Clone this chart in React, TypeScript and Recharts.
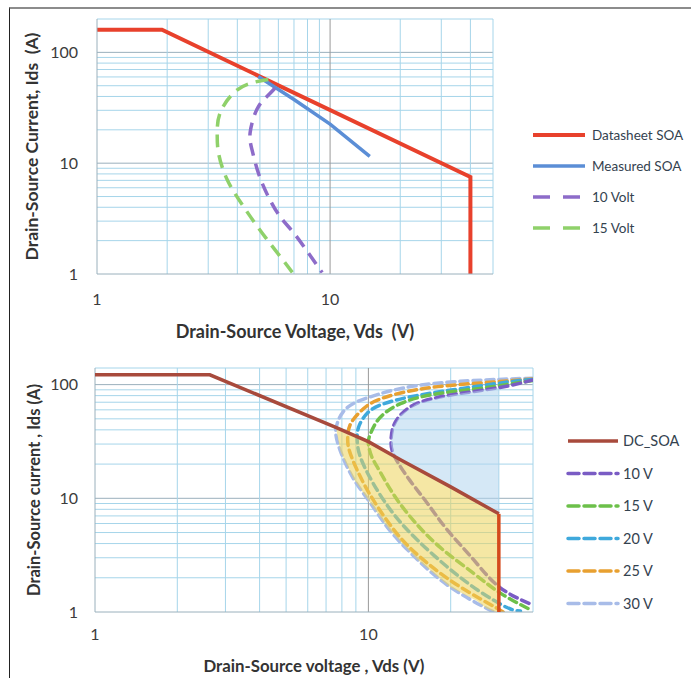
import React from 'react';
import { ComposedChart, Line, Area, XAxis, YAxis, ReferenceLine } from 'recharts';

// ---------- Top chart data ----------
const topXTicks = [1, 10];
const topYTicks = [1, 10, 100];
const topXGrid = [2, 3, 4, 5, 6, 7, 8, 9, 10, 20, 30, 40, 50];
const topYGrid = [2, 3, 4, 5, 6, 7, 8, 9, 10, 20, 30, 40, 50, 60, 70, 80, 90, 100, 200];

const datasheetSOA = [[1, 160], [1.9, 160], [40, 7.5], [40, 1]];
const measuredSOA = [[4.92, 60.5], [7, 37.5], [10, 22.5], [14.8, 11.5]];
const volt10 = [[5.8, 47.5], [5.36, 40], [4.85, 30.5], [4.54, 18.9], [4.62, 13.3], [4.92, 8.2], [5.43, 5.0], [6.1, 3.3], [6.97, 2.36], [8.05, 1.56], [9.25, 1.03]];
const volt15 = [[5.43, 56.9], [4.69, 53.5], [3.92, 44.4], [3.38, 28.7], [3.28, 18.9], [3.32, 12.4], [3.62, 7.1], [4.25, 4.06], [5.1, 2.36], [6.17, 1.4], [6.97, 1]];

// ---------- Bottom chart data ----------
const botXTicks = [1, 10];
const botYTicks = [1, 10, 100];
const botXGrid = [2, 3, 4, 5, 6, 7, 8, 9, 10, 20, 30, 40];
const botYGrid = [2, 3, 4, 5, 6, 7, 8, 9, 10, 20, 30, 40, 50, 60, 70, 80, 90, 100, 140];

const dcSOA = [[1, 122], [2.63, 122], [7.6, 42], [10, 31.5], [13.1, 21.8], [20, 12.6], [30, 7.3]];
const dcSOAEdge = [[30, 7.3], [30, 1]];
const v10 = [[40, 110], [30, 94], [20, 81], [15, 68], [13.1, 54], [12.3, 42], [12.1, 31], [12.5, 23], [14.2, 14.3], [16.4, 9.1], [19.4, 5.3], [24.2, 2.9], [30.2, 1.65], [40, 1.15]];
const v15 = [[40, 109], [26, 93], [17.3, 82], [13.1, 68], [11, 51], [10.2, 37.5], [10, 30], [10.3, 23], [10.8, 18.7], [12.3, 11], [14.6, 6.4], [18.3, 3.7], [24.2, 2.2], [30.2, 1.48], [39, 1.05]];
const v20 = [[40, 111], [35, 108], [23, 94], [15, 80], [11.4, 68], [9.9, 56], [9.2, 42], [9.1, 32], [9.35, 23], [10.4, 13.6], [12.3, 7.4], [15.1, 4.3], [19.4, 2.5], [25, 1.57], [32, 1.1], [36, 1.02]];
const v25 = [[40, 112], [28, 105], [18, 96], [13, 84], [10.5, 71], [9.35, 58], [8.6, 45], [8.4, 34], [8.6, 24.5], [9.6, 13.6], [11, 7.9], [13.1, 4.5], [16.4, 2.7], [21.7, 1.66], [29.5, 1.08], [31, 1]];
const v30 = [[40, 114], [20.6, 106], [13.3, 93], [10.5, 80], [9, 70], [8.1, 58], [7.7, 46], [7.6, 37], [7.9, 26], [8.8, 15], [10.2, 9], [12, 5.2], [15.1, 2.9], [19.9, 1.66], [27, 1.08], [29, 1]];
// fills: [x, low, high]
const yellowFill = [[7.65, 39, 41.5], [7.9, 26, 40.3], [8.8, 15, 36], [10.2, 9, 30.8], [12, 5.2, 24.6], [15.1, 2.9, 18.5], [19.9, 1.66, 12.7], [25, 1.25, 9.3], [27, 1.08, 8.4], [29, 1, 7.6], [30, 1, 7.3]];
const blueFill = [[12.1, 30, 31], [12.3, 24.5, 42], [13.1, 22, 54], [15, 18.5, 68], [20, 12.6, 81], [25, 9.3, 88], [30, 7.3, 94]];

const toPts = (a: number[][]) => a.map(([x, y]) => ({ x, y }));
const toRange = (a: number[][]) => a.map(([x, lo, hi]) => ({ x, range: [lo, hi] }));

const FONT = 'Lato, "Open Sans", sans-serif';
const MINOR = '#a6d5ea';
const MAJOR = '#9ab0bc';

const topSeries = [
  { name: 'Datasheet SOA', data: datasheetSOA, color: '#e8412c', width: 4, dash: undefined as string | undefined },
  { name: 'Measured SOA', data: measuredSOA, color: '#5b8ed6', width: 3.5, dash: undefined },
  { name: '10 Volt', data: volt10, color: '#8d6cc9', width: 3.5, dash: '13 8' },
  { name: '15 Volt', data: volt15, color: '#8fd16a', width: 3.5, dash: '13 8' },
];

const botSeries = [
  { name: 'DC_SOA', data: dcSOA, color: '#a84a3c', width: 3.5, dash: undefined as string | undefined },
  { name: '10 V', data: v10, color: '#7a5cc4', width: 3.5, dash: '8 5' },
  { name: '15 V', data: v15, color: '#6cc04a', width: 3.5, dash: '8 5' },
  { name: '20 V', data: v20, color: '#3fa9dc', width: 3.5, dash: '8 5' },
  { name: '25 V', data: v25, color: '#e8a030', width: 3.5, dash: '8 5' },
  { name: '30 V', data: v30, color: '#a8bce8', width: 3.5, dash: '8 5' },
];

function gridLines(xs: number[], ys: number[]) {
  const out: React.ReactNode[] = [];
  ys.forEach((v) => out.push(
    <ReferenceLine key={'h' + v} y={v} stroke={v === 10 || v === 100 ? MAJOR : MINOR} strokeWidth={1} />
  ));
  xs.forEach((v) => out.push(
    <ReferenceLine key={'v' + v} x={v} stroke={v === 10 ? '#9a9a9a' : MINOR} strokeWidth={1} />
  ));
  return out;
}

function LegendBox({ items, left, top, gap, x1, x2, tx, fontSize, legendDash, round }: any) {
  return (
    <svg style={{ position: 'absolute', left, top, overflow: 'visible' }} width={691 - left} height={gap * items.length + 14}>
      {items.map((s: any, i: number) => {
        const y = 10 + i * gap;
        return (
          <g key={s.name}>
            <line x1={x1} x2={x2} y1={y} y2={y} stroke={s.color} strokeWidth={s.width}
              strokeDasharray={s.dash ? legendDash : undefined} strokeLinecap={s.dash && round ? 'round' : 'butt'} />
            <text x={tx} y={y} dy="0.35em" fontSize={fontSize} fill="#34424f" fontFamily={FONT}>{s.name}</text>
          </g>
        );
      })}
    </svg>
  );
}

export default function App() {
  const tickStyle = { fill: '#3c3c3c', fontSize: 16, fontFamily: FONT };
  const title = (size: number) => ({ fill: '#333', fontSize: size, fontWeight: 700, fontFamily: FONT });
  return (
    <div style={{ position: 'absolute', left: 0, top: 0, width: 691, height: 678, background: '#fff', overflow: 'hidden', fontFamily: FONT }}>
      <div style={{ position: 'absolute', left: 9, top: 7, width: 690, height: 680, borderTop: '2px solid #8c8c8c', borderLeft: '1px solid #222' }} />

      <div style={{ position: 'absolute', left: 0, top: 0 }}>
        <ComposedChart width={691} height={346} margin={{ top: 19, right: 198, bottom: 0, left: 0 }}>
          <XAxis dataKey="x" type="number" scale="log" domain={[1, 50]} allowDataOverflow ticks={topXTicks}
            tickLine={false} tickSize={0} tickMargin={20} axisLine={{ stroke: MAJOR }} height={72} tick={tickStyle}
            label={{ value: 'Drain-Source Voltage, Vds\u00a0 (V)', position: 'insideBottom', offset: 8, style: title(18) }} />
          <YAxis type="number" scale="log" domain={[1, 200]} allowDataOverflow ticks={topYTicks}
            tickLine={false} tickSize={0} tickMargin={19} axisLine={{ stroke: MAJOR }} width={97} tick={tickStyle}
            label={{ value: 'Drain-Source Current, Ids\u00a0 (A)', angle: -90, position: 'insideLeft', offset: 32, style: { ...title(17.5), textAnchor: 'middle' } }} />
          {gridLines(topXGrid, topYGrid)}
          {topSeries.map((s) => (
            <Line key={s.name} data={toPts(s.data)} dataKey="y" type={s.dash ? 'natural' : 'linear'} stroke={s.color}
              strokeWidth={s.width} strokeDasharray={s.dash} dot={false} isAnimationActive={false} />
          ))}
        </ComposedChart>
      </div>
      <LegendBox items={topSeries} left={525} top={125} gap={31} x1={8} x2={60} tx={67} fontSize={13.5} legendDash="17 13" />

      <div style={{ position: 'absolute', left: 0, top: 349 }}>
        <ComposedChart width={691} height={329} margin={{ top: 19, right: 158, bottom: 0, left: 0 }}>
          <XAxis dataKey="x" type="number" scale="log" domain={[1, 40]} allowDataOverflow ticks={botXTicks}
            tickLine={false} tickSize={0} tickMargin={17} axisLine={{ stroke: MAJOR }} height={66} tick={tickStyle}
            label={{ value: 'Drain-Source voltage , Vds (V)', position: 'insideBottom', offset: 6, style: title(16.8) }} />
          <YAxis type="number" scale="log" domain={[1, 140]} allowDataOverflow ticks={botYTicks}
            tickLine={false} tickSize={0} tickMargin={17} axisLine={{ stroke: MAJOR }} width={95} tick={tickStyle}
            label={{ value: 'Drain-Source current , Ids (A)', angle: -90, position: 'insideLeft', offset: 34, style: { ...title(16.5), textAnchor: 'middle' } }} />
          {gridLines(botXGrid, botYGrid)}
          {botSeries.slice(1).reverse().map((s) => (
            <Line key={s.name} data={toPts(s.data)} dataKey="y" type="natural" stroke={s.color}
              strokeWidth={s.width} strokeDasharray={s.dash} strokeLinecap="round" dot={false} isAnimationActive={false} />
          ))}
          {/* @ts-ignore */}
          <Area zIndex={450} data={toRange(blueFill)} dataKey="range" type="linear" stroke="none" fill="#b2d5ee" fillOpacity={0.55} isAnimationActive={false} />
          {/* @ts-ignore */}
          <Area zIndex={450} data={toRange(yellowFill)} dataKey="range" type="linear" stroke="none" fill="#ecd35a" fillOpacity={0.55} isAnimationActive={false} />
          {/* @ts-ignore */}
          <Line zIndex={500} data={toPts(dcSOA)} dataKey="y" type="linear" stroke="#a84a3c" strokeWidth={3.5} dot={false} isAnimationActive={false} />
          {/* @ts-ignore */}
          <Line zIndex={500} data={toPts(dcSOAEdge)} dataKey="y" type="linear" stroke="#d44a1c" strokeWidth={3.5} dot={false} isAnimationActive={false} />
        </ComposedChart>
      </div>
      <LegendBox items={botSeries} left={560} top={431} gap={32.5} x1={8} x2={58} tx={63} fontSize={14.5} legendDash="11 5" round />
    </div>
  );
}
